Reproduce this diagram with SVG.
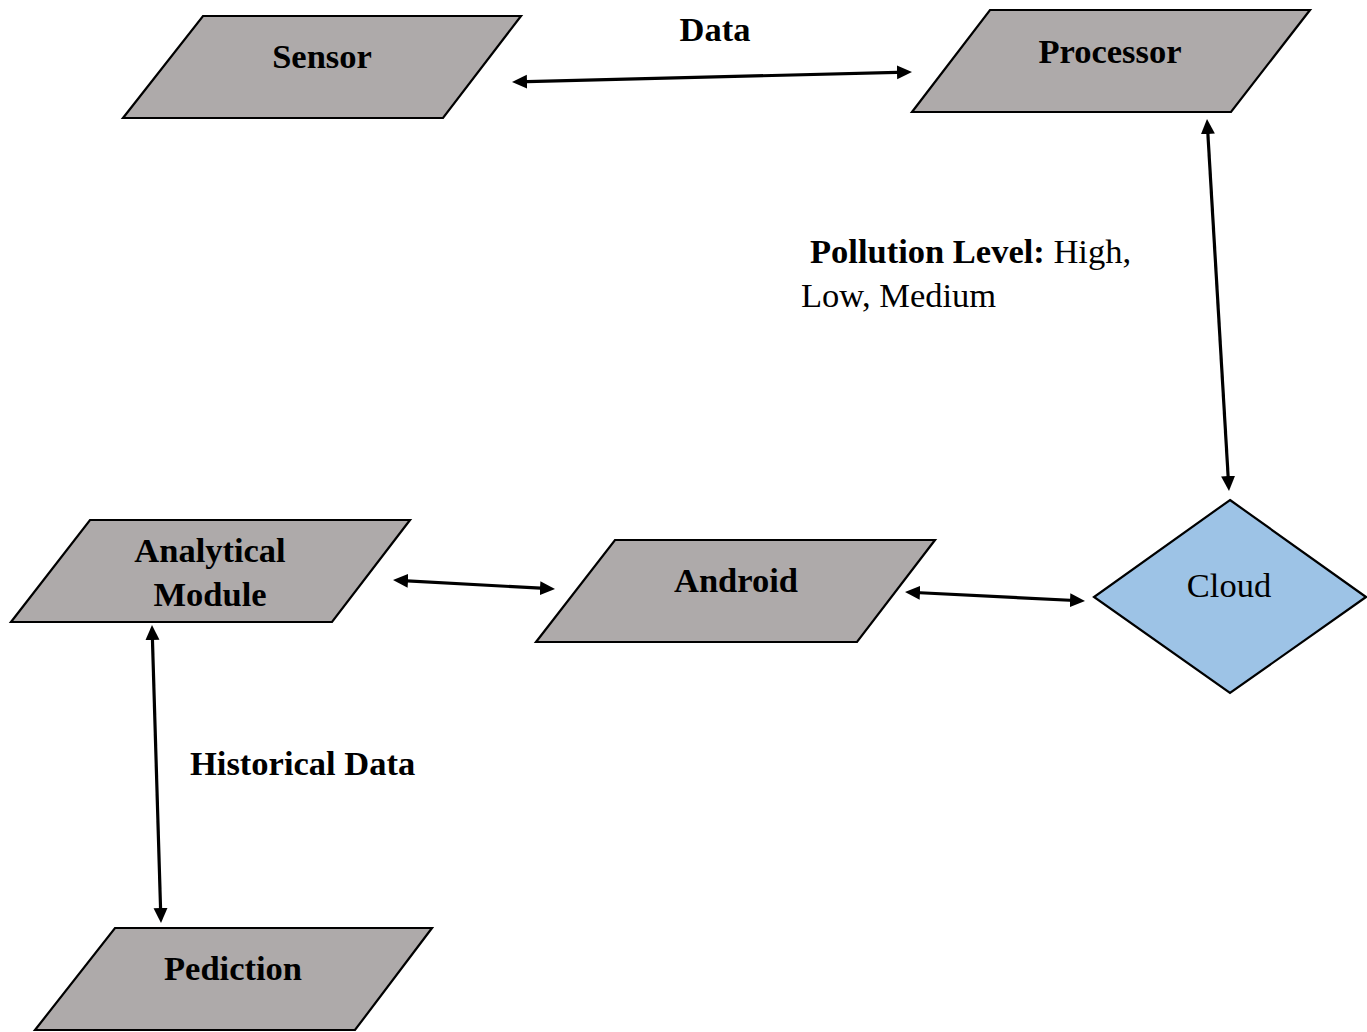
<svg xmlns="http://www.w3.org/2000/svg" width="1367" height="1032" viewBox="0 0 1367 1032">
<style>
.node{fill:#AEAAAA;stroke:#000;stroke-width:2.2;stroke-linejoin:miter}
.cloud{fill:#9DC3E6;stroke:#000;stroke-width:2.2}
.t{font-family:"Liberation Serif","Times New Roman",serif;font-size:34.5px;fill:#000}
.b{font-weight:bold}
.c{text-anchor:middle}
.con{stroke:#000;stroke-width:3.2;fill:none;marker-start:url(#ah);marker-end:url(#ah)}
</style>
<defs>
<marker id="ah" markerUnits="userSpaceOnUse" markerWidth="16" markerHeight="15" refX="10" refY="7" orient="auto-start-reverse">
<path d="M0,0 L15,7 L0,14 z" fill="#000"/>
</marker>
</defs>
<rect width="1367" height="1032" fill="#fff"/>
<g id="connectors">
<line class="con" x1="517" y1="81.9" x2="907" y2="72.1"/>
<line class="con" x1="1207.3" y1="124" x2="1228.7" y2="486"/>
<line class="con" x1="910" y1="592.25" x2="1080" y2="600.75"/>
<line class="con" x1="398" y1="580.3" x2="550" y2="588.7"/>
<line class="con" x1="152.15" y1="630" x2="160.85" y2="918"/>
</g>
<g id="sensor">
<polygon class="node" points="203,16 521,16 443,118 123,118"/>
<text class="t b c" x="322" y="68">Sensor</text>
</g>
<g id="processor">
<polygon class="node" points="990,10 1310,10 1231,112 912,112"/>
<text class="t b c" x="1110" y="63">Processor</text>
</g>
<g id="cloud">
<polygon class="cloud" points="1230,500 1366,597 1230,693 1094,597"/>
<text class="t c" x="1229" y="597">Cloud</text>
</g>
<g id="android">
<polygon class="node" points="615,540 935,540 857,642 536,642"/>
<text class="t b c" x="736" y="592">Android</text>
</g>
<g id="analytical">
<polygon class="node" points="90,520 410,520 332,622 11,622"/>
<text class="t b c" x="210" y="562">Analytical</text>
<text class="t b c" x="210" y="606">Module</text>
</g>
<g id="prediction">
<polygon class="node" points="115,928 432,928 355,1030 35,1030"/>
<text class="t b c" x="233" y="980">Pediction</text>
</g>
<g id="labels">
<text class="t b c" x="715" y="41">Data</text>
<text class="t" x="810" y="263"><tspan class="b">Pollution Level:</tspan> High,</text>
<text class="t" x="801" y="307">Low, Medium</text>
<text class="t b" x="190" y="775">Historical Data</text>
</g>
</svg>
